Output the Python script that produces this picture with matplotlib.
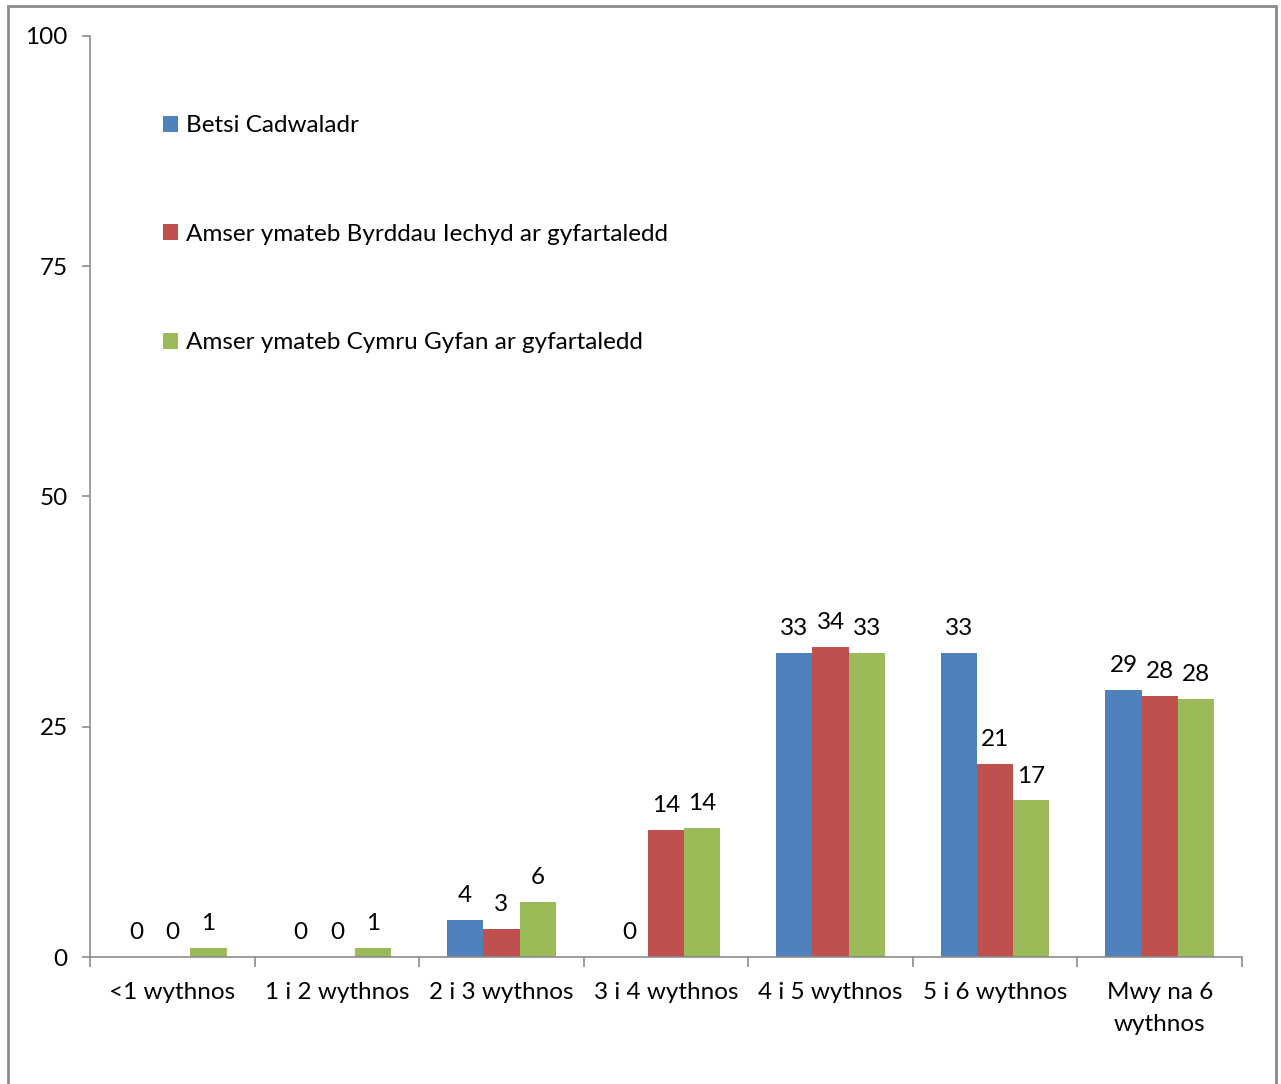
import numpy as np
import matplotlib.pyplot as plt
from matplotlib.patches import Rectangle

plt.rcParams['font.family'] = ['Lato', 'DejaVu Sans']

# data
categories = ['<1 wythnos', '1 i 2 wythnos', '2 i 3 wythnos', '3 i 4 wythnos',
              '4 i 5 wythnos', '5 i 6 wythnos', 'Mwy na 6\nwythnos']
betsi = [0, 0, 4, 0, 33, 33, 29]
byrddau = [0, 0, 3, 13.8, 33.7, 21, 28.3]
cymru = [1, 1, 6, 14, 33, 17, 28]
series_names = ['Betsi Cadwaladr',
                'Amser ymateb Byrddau Iechyd ar gyfartaledd',
                'Amser ymateb Cymru Gyfan ar gyfartaledd']
colors = ['#4F81BD', '#C0504D', '#9BBB59']

FS = 17.5
W, H = 1281, 1084
fig = plt.figure(figsize=(W / 100, H / 100), dpi=100)

# outer frame of the chart area
fig.patches.append(Rectangle((8 / W, -0.05), (1276 - 8) / W, 1.05 - 6 / H,
                             transform=fig.transFigure, fill=False,
                             edgecolor='#8c8c8c', linewidth=2))

ax = fig.add_axes([90 / W, 1 - 957 / H, (1242 - 90) / W, (957 - 36) / H])

x = np.arange(len(categories))
bw = 0.22
for i, (vals, name, c) in enumerate(zip([betsi, byrddau, cymru], series_names, colors)):
    bars = ax.bar(x + (i - 1) * bw, vals, bw, color=c, label=name)
    for b, v in zip(bars, vals):
        ax.annotate(f'{round(v)}', (b.get_x() + b.get_width() / 2, v),
                    xytext=(0, 10), textcoords='offset points',
                    ha='center', va='bottom', fontsize=FS)

ax.set_xlim(-0.5, len(categories) - 0.5)
ax.set_ylim(0, 100)
ax.set_yticks([0, 25, 50, 75, 100])
ax.set_xticks(np.arange(len(categories) + 1) - 0.5)
ax.set_xticklabels([])
ax.set_xticks(x, minor=True)
ax.set_xticklabels(categories, minor=True, fontsize=FS, linespacing=1.65)
ax.tick_params(axis='x', which='minor', length=0, pad=18)
ax.tick_params(axis='x', which='major', length=7, color='#8c8c8c', width=1.2)
ax.tick_params(axis='y', length=6, color='#8c8c8c', width=1.2, labelsize=FS, pad=10)

for s in ['top', 'right']:
    ax.spines[s].set_visible(False)
for s in ['left', 'bottom']:
    ax.spines[s].set_color('#8c8c8c')
    ax.spines[s].set_linewidth(1.2)

ax.legend(loc='upper left', bbox_to_anchor=(0.0525, 0.927), frameon=False,
          fontsize=FS, handlelength=0.65, handleheight=0.65,
          handletextpad=0.3, labelspacing=3.6, borderpad=0)

fig.savefig('out.png', dpi=100)
